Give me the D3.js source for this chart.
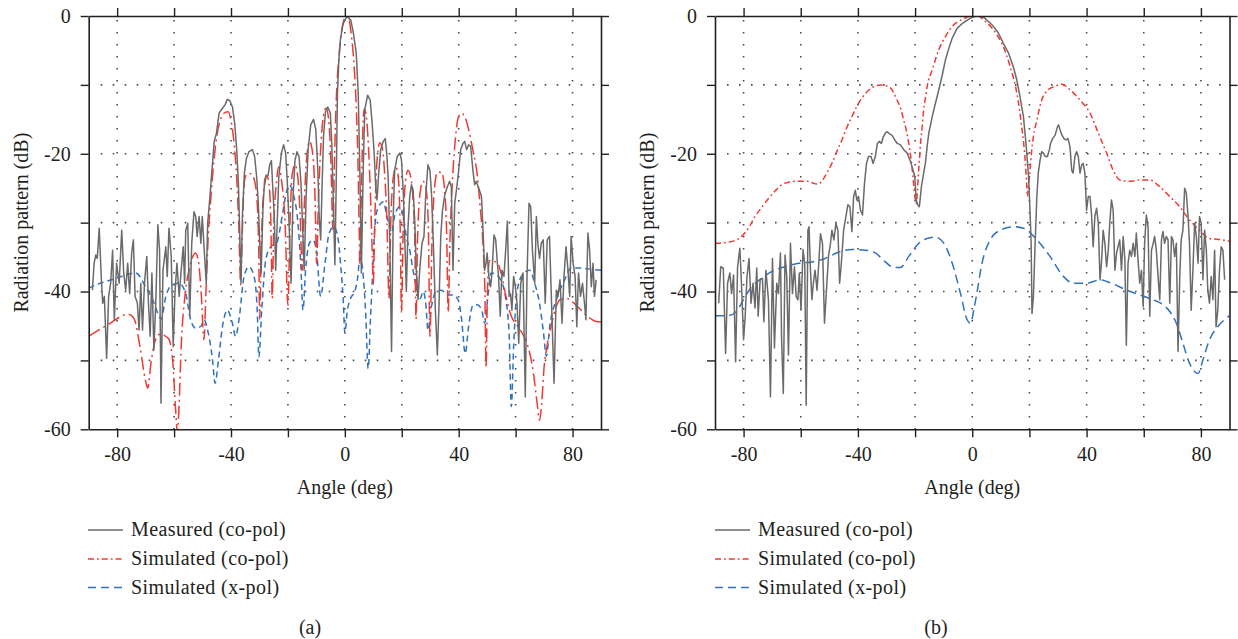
<!DOCTYPE html>
<html><head><meta charset="utf-8">
<script src="https://cdn.jsdelivr.net/npm/d3@7"></script>
<style>
body{margin:0;background:#fff}
svg{display:block}
text{font-family:"Liberation Serif","Times New Roman",serif;fill:#231f20}
</style>
</head><body>
<svg id="chart" width="1238" height="639"></svg>
<script>
// ---------- tick labels / texts ----------
const xTicks = [-80,-60,-40,-20,0,20,40,60,80];
const xTickLabels = [-80,-40,0,40,80];
const yTicks = [0,-10,-20,-30,-40,-50,-60];
const yTickLabels = [0,-20,-40,-60];
const seriesNames = ["Measured (co-pol)","Simulated (co-pol)","Simulated (x-pol)"];
const xTitle = "Angle (deg)";
const yTitle = "Radiation pattern (dB)";
const panelCaptions = ["(a)","(b)"];

// ---------- panel (a) data: [angle (deg), dB] ----------
const measuredA = [[-88.7,-39.8],[-88.1,-35.9],[-87.5,-34.7],[-87.0,-35.2],[-86.3,-30.8],[-85.6,-37.8],[-85.1,-41.7],[-84.5,-40.7],[-83.7,-49.7],[-83.0,-40.7],[-82.3,-38.8],[-81.6,-34.0],[-81.0,-44.1],[-80.2,-35.9],[-79.3,-38.8],[-78.4,-31.1],[-77.7,-37.3],[-77.0,-39.8],[-76.3,-35.9],[-75.6,-40.3],[-74.9,-34.4],[-74.3,-32.5],[-73.7,-40.7],[-72.9,-41.7],[-72.3,-45.6],[-71.7,-38.8],[-71.1,-45.6],[-70.4,-38.8],[-69.6,-34.9],[-69.0,-41.7],[-68.4,-46.5],[-67.8,-37.3],[-67.1,-48.5],[-66.4,-41.2],[-65.7,-30.3],[-65.1,-34.0],[-64.6,-56.2],[-63.9,-36.9],[-62.9,-33.5],[-62.4,-37.8],[-61.8,-30.8],[-61.0,-34.9],[-60.3,-48.0],[-59.7,-40.3],[-59.0,-35.9],[-58.2,-40.7],[-57.5,-36.9],[-56.8,-33.5],[-56.3,-38.8],[-55.9,-31.1],[-55.2,-30.1],[-54.5,-43.6],[-53.8,-33.0],[-53.0,-28.4],[-52.4,-29.1],[-51.9,-32.0],[-51.2,-29.1],[-50.6,-33.0],[-50.1,-29.1],[-49.4,-34.0],[-48.7,-38.8],[-48.2,-30.1],[-47.4,-26.2],[-46.5,-21.4],[-45.9,-18.2],[-45.1,-17.0],[-44.2,-14.1],[-43.0,-13.4],[-42.1,-12.9],[-41.3,-12.1],[-40.4,-12.3],[-39.5,-13.2],[-38.7,-15.6],[-38.0,-19.4],[-37.4,-24.3],[-37.0,-30.6],[-36.5,-38.8],[-36.0,-29.1],[-35.3,-22.8],[-34.6,-20.7],[-33.7,-19.7],[-32.5,-19.4],[-31.7,-20.4],[-31.0,-23.3],[-30.4,-27.2],[-29.9,-33.0],[-29.4,-37.3],[-28.8,-28.2],[-28.2,-23.8],[-27.6,-23.1],[-27.0,-23.2],[-26.4,-21.6],[-25.8,-21.0],[-25.4,-24.3],[-24.8,-29.1],[-24.3,-36.9],[-23.7,-29.1],[-23.2,-23.3],[-22.3,-19.9],[-21.5,-18.7],[-20.8,-19.9],[-20.2,-24.3],[-19.6,-30.1],[-18.9,-38.8],[-18.2,-26.2],[-17.5,-20.9],[-16.8,-19.7],[-16.1,-20.4],[-15.4,-24.3],[-14.9,-30.1],[-14.3,-36.9],[-13.6,-26.2],[-12.9,-19.4],[-12.0,-15.8],[-11.0,-15.0],[-10.2,-16.5],[-9.5,-22.4],[-9.0,-29.1],[-8.5,-32.5],[-8.1,-26.2],[-7.5,-17.5],[-6.8,-13.9],[-6.0,-13.2],[-5.1,-14.1],[-4.6,-18.5],[-4.1,-26.2],[-3.5,-36.1],[-3.0,-23.3],[-2.6,-11.2],[-2.1,-6.4],[-1.5,-3.2],[-0.7,-1.3],[0,-0.5],[0.9,-0.1],[2.1,-0.6],[3.0,-2.5],[4.0,-5.4],[4.7,-11.2],[5.3,-23.3],[5.8,-37.3],[6.4,-23.3],[7.0,-13.6],[8.0,-11.5],[8.9,-12.2],[9.6,-15.6],[10.3,-19.9],[10.9,-25.3],[11.3,-26.7],[11.9,-22.8],[12.6,-19.4],[13.5,-18.2],[14.2,-17.8],[14.7,-19.9],[15.2,-23.3],[15.8,-33.0],[16.4,-48.7],[17.0,-29.1],[17.5,-22.4],[18.4,-20.4],[19.3,-19.9],[19.9,-20.9],[20.6,-26.2],[21.1,-33.0],[21.6,-40.0],[22.2,-30.6],[22.8,-26.2],[23.4,-24.5],[24.0,-25.3],[24.6,-30.1],[25.1,-36.9],[25.7,-41.2],[26.3,-36.9],[27.1,-33.0],[27.8,-32.0],[28.4,-26.2],[29.2,-21.6],[29.9,-22.4],[30.5,-26.2],[31.1,-33.0],[31.8,-42.7],[32.5,-49.2],[33.1,-41.7],[33.7,-32.0],[34.3,-28.2],[35.1,-26.0],[36.0,-24.8],[36.8,-24.0],[37.4,-24.8],[38.0,-36.9],[38.6,-27.2],[39.2,-25.3],[40.0,-22.4],[40.7,-19.4],[41.5,-18.5],[42.1,-18.2],[42.8,-19.4],[43.5,-18.7],[44.2,-18.9],[45.0,-22.4],[45.6,-24.5],[46.2,-24.0],[46.8,-24.8],[47.3,-25.3],[48.0,-26.2],[48.5,-30.6],[49.1,-36.9],[49.6,-35.9],[50.0,-34.4],[50.6,-37.8],[51.2,-39.3],[51.7,-37.3],[52.4,-31.8],[53.0,-32.5],[53.6,-35.9],[54.0,-37.8],[54.6,-43.6],[55.2,-36.9],[55.9,-37.8],[56.5,-34.0],[57.1,-29.8],[57.7,-40.7],[58.2,-40.3],[58.7,-42.7],[59.3,-37.8],[59.9,-39.3],[60.5,-41.7],[61.1,-47.5],[61.8,-38.8],[62.6,-37.3],[63.4,-55.3],[64.0,-37.8],[64.7,-27.2],[65.3,-27.7],[65.9,-34.0],[66.7,-38.8],[67.3,-29.1],[67.8,-33.0],[68.4,-35.2],[69.0,-33.0],[69.7,-32.5],[70.4,-41.7],[71.1,-32.5],[71.9,-32.0],[72.7,-42.7],[73.5,-53.3],[74.3,-39.8],[74.9,-40.7],[75.6,-38.3],[76.3,-44.6],[77.0,-37.8],[77.7,-33.5],[78.4,-36.9],[79.0,-40.7],[79.5,-32.0],[80.2,-35.9],[80.9,-37.8],[81.5,-45.1],[82.1,-37.3],[82.8,-40.7],[83.5,-38.8],[84.2,-41.7],[84.7,-44.1],[85.4,-31.5],[86.0,-34.0],[86.6,-39.3],[87.2,-35.9],[87.7,-40.7],[88.3,-38.3]];

const simCoA = [[-90,-46.5],[-84,-45],[-76,-43.3],[-74,-44],[-72,-48],[-70,-53],[-69.3,-54],[-68,-50],[-66.5,-47],[-65,-46.2],[-62,-46.8],[-60.5,-50],[-59.5,-57],[-58.8,-60.5],[-58.3,-57],[-57.5,-48],[-56,-40],[-54.5,-36.5],[-52.5,-34.4],[-51.5,-35.5],[-50.5,-40],[-49.5,-47],[-48.8,-40],[-48,-32],[-47,-26],[-46,-21],[-45,-17.5],[-43.5,-14.8],[-42,-14],[-41,-13.9],[-40,-15.2],[-38.8,-19],[-38,-23.5],[-37.3,-30],[-36.6,-39],[-36,-31],[-35.3,-24],[-34.5,-23],[-33,-22.9],[-32,-23.5],[-31,-26],[-30.3,-33],[-29.9,-44],[-29.4,-34],[-28.5,-25.5],[-27.3,-23.3],[-26.5,-25],[-26,-30],[-25.5,-41],[-25,-31],[-24,-24],[-23.2,-21.9],[-22.2,-24],[-21,-30],[-20,-42],[-19.2,-29],[-18.5,-23],[-17.5,-21.6],[-16.5,-23.5],[-15.7,-29],[-15,-37],[-14.3,-28],[-13.5,-21],[-12.4,-18.2],[-11.3,-20],[-10.5,-26],[-9.9,-36],[-9.3,-27],[-8.3,-18],[-7.3,-14],[-6.6,-13.4],[-5.7,-15],[-4.9,-21],[-4.2,-31],[-3.7,-22],[-3,-12],[-2,-5.5],[-1,-1.8],[0,-0.2],[0.5,0],[1.2,-0.2],[2.3,-2.8],[3.3,-7.5],[4,-13],[4.6,-21],[5,-30],[5.3,-36],[5.7,-28],[6.2,-18],[6.8,-13.5],[7.5,-14.5],[8.3,-19],[9,-26],[9.6,-34],[10,-39],[10.5,-30],[11.3,-21],[12.3,-18.4],[13.3,-19.5],[14,-23],[14.8,-30],[15.5,-41],[16.2,-29],[17,-23.5],[18,-22],[18.8,-23.5],[19.4,-30],[19.9,-43],[20.5,-31],[21.3,-24],[22.2,-22.4],[23.2,-23.5],[24,-27],[24.6,-33],[25,-44],[25.5,-33],[26.5,-25.5],[27.5,-24],[28.5,-25],[29.3,-30],[29.9,-46.5],[30.6,-33],[31.5,-25],[32.5,-22.7],[34,-22.7],[35,-25],[35.8,-32],[36.3,-43],[36.9,-33],[37.8,-24],[38.8,-18],[39.8,-14.8],[40.9,-14.1],[42,-14.5],[43.5,-16.5],[45,-19.5],[46.5,-23],[47.5,-27.5],[48.5,-33],[49.2,-40],[49.6,-51],[50.1,-40],[50.8,-35.5],[53.5,-35.8],[55,-37.5],[56.5,-40.5],[58,-43],[61.5,-45.5],[63.5,-47],[65,-49],[66.3,-52],[67.5,-56],[68.4,-58.7],[69.2,-56],[70,-51],[71,-48],[72.5,-45],[74,-42.5],[75.6,-41.2],[78,-41],[80,-41.5],[82.5,-42.5],[85,-43.5],[88,-44.3],[90,-44.4]];

const simXA = [[-90,-39.5],[-86,-38.8],[-82,-38.3],[-77,-37.6],[-73.5,-37.3],[-70,-39.3],[-67,-41.7],[-65.3,-43.6],[-64.5,-44],[-62.9,-40.7],[-60.6,-39],[-58.2,-38.8],[-55.9,-40.3],[-54.2,-44.1],[-52.4,-45.3],[-50.5,-45],[-49.5,-44.1],[-48,-46],[-46.5,-49.9],[-45.6,-53.3],[-44.4,-49.9],[-43,-45.1],[-41.3,-42.7],[-39.5,-44.6],[-38.4,-46.5],[-37.2,-44.1],[-35.4,-37.8],[-33.7,-36.4],[-31.9,-37.8],[-30.8,-42.7],[-30.2,-49.5],[-29.2,-42.7],[-27.8,-35.4],[-26,-33.5],[-24,-33],[-22,-29],[-20.5,-25.5],[-19.5,-24.5],[-18,-26],[-16.5,-30],[-15.5,-36],[-14.7,-42.7],[-13.8,-37],[-12.5,-33],[-11.2,-32.5],[-10,-34],[-8.5,-40.7],[-7,-36],[-5.5,-31.5],[-3.9,-30.6],[-2.5,-32],[-1.5,-36],[-0.6,-41],[0,-46],[0.8,-43],[2,-41],[3.5,-40],[4.5,-38],[5.3,-35],[6.3,-37],[7.3,-43],[8.2,-51.2],[9,-44],[9.8,-37],[10.5,-31],[11.5,-28],[13.5,-27],[15,-29.5],[16.4,-31.5],[17.5,-29],[19.3,-27.7],[20.5,-29],[21.6,-32],[22.8,-34],[24,-37],[25.5,-40],[26.5,-41],[27.5,-40],[28.5,-42],[29.2,-45.6],[30.5,-42],[32,-40],[34,-39.8],[36,-40.5],[38,-40.5],[39.8,-41.2],[41,-44],[42.3,-49],[43.5,-45],[45,-42],[46.2,-41.9],[48,-42.5],[49.1,-44.6],[50.2,-41],[51.4,-37.3],[53,-37.5],[55,-38.5],[56.5,-41],[57.7,-46],[58.5,-56.7],[59.3,-48],[60.5,-40],[62.5,-37.5],[64.9,-36.9],[66.5,-38.5],[68.5,-42],[69.8,-46],[70.8,-49.4],[72,-45],[74.5,-41],[77,-38.5],[79.5,-36.6],[83,-36.6],[87,-36.8],[90,-36.9]];

// ---------- panel (b) data ----------
const measuredB = [[-88.7,-41.7],[-88.0,-36.4],[-87.1,-36.6],[-86.3,-49.0],[-85.6,-38.8],[-84.8,-37.3],[-84.2,-40.3],[-83.5,-37.6],[-82.8,-50.2],[-82.1,-36.4],[-81.3,-33.7],[-80.7,-39.3],[-80.0,-47.0],[-79.5,-44.1],[-78.8,-37.8],[-78.1,-35.2],[-77.4,-41.7],[-76.7,-38.8],[-76.0,-42.4],[-75.4,-36.6],[-74.9,-43.6],[-74.2,-38.3],[-73.4,-38.1],[-72.9,-44.4],[-72.2,-36.9],[-71.3,-41.2],[-70.6,-55.3],[-69.9,-35.2],[-69.2,-48.2],[-68.4,-38.8],[-67.8,-40.3],[-67.1,-34.4],[-66.7,-47.0],[-66.1,-54.8],[-65.5,-34.7],[-64.9,-37.8],[-64.3,-49.2],[-63.6,-33.0],[-62.9,-40.3],[-62.2,-36.4],[-61.6,-40.7],[-61.0,-41.2],[-60.5,-37.3],[-59.9,-42.7],[-59.2,-33.9],[-58.6,-36.0],[-58.1,-56.5],[-57.5,-31.1],[-57.1,-30.6],[-56.6,-36.9],[-56.1,-41.2],[-55.6,-38.8],[-55.0,-36.9],[-54.3,-39.8],[-53.7,-35.9],[-53.1,-31.6],[-52.4,-33.0],[-51.7,-44.6],[-51.0,-39.8],[-50.3,-34.9],[-49.6,-33.0],[-49.1,-31.1],[-48.4,-32.5],[-47.7,-30.1],[-47.0,-31.1],[-46.4,-38.8],[-45.8,-35.9],[-45.0,-31.1],[-44.2,-29.1],[-43.5,-27.4],[-42.8,-27.7],[-42.1,-31.3],[-41.5,-26.2],[-40.9,-25.3],[-40.4,-26.7],[-39.8,-26.2],[-39.1,-28.2],[-38.4,-28.9],[-37.7,-24.3],[-37.0,-21.4],[-36.3,-20.4],[-35.4,-20.4],[-34.7,-21.4],[-33.9,-20.4],[-33.2,-18.5],[-32.5,-18.2],[-31.8,-18.5],[-31.1,-17.5],[-30.4,-17.0],[-29.7,-16.8],[-29.0,-17.1],[-28.1,-17.3],[-27.1,-18.0],[-26.2,-18.5],[-25.1,-18.7],[-24.0,-19.4],[-22.8,-19.9],[-21.6,-21.1],[-20.7,-22.4],[-20.1,-23.3],[-19.6,-26.7],[-19.1,-27.4],[-18.5,-27.7],[-17.8,-24.8],[-17.0,-22.8],[-16.4,-21.4],[-15.8,-19.0],[-15.2,-17.0],[-14.0,-14.6],[-12.9,-12.7],[-11.7,-10.7],[-10.5,-8.6],[-9.4,-6.4],[-8.2,-4.7],[-7.0,-3.2],[-5.3,-1.8],[-3.5,-1.1],[-1.8,-0.6],[0,-0.2],[1.6,0],[4.0,-0.2],[5.7,-0.8],[7.4,-1.5],[9.2,-2.5],[10.9,-4.0],[12.7,-5.4],[14.4,-7.4],[15.6,-9.3],[16.7,-11.7],[17.9,-14.6],[18.8,-18.5],[19.7,-23.3],[20.2,-28.2],[20.6,-33.0],[20.9,-43.2],[21.4,-40.7],[22.0,-33.0],[22.6,-26.2],[23.1,-22.8],[23.7,-21.0],[24.3,-19.7],[24.9,-19.9],[25.5,-20.4],[26.3,-20.4],[27.0,-19.4],[27.4,-18.5],[28.1,-17.8],[29.0,-17.3],[29.8,-16.1],[30.2,-15.8],[30.7,-16.5],[31.4,-17.3],[32.1,-17.8],[32.8,-18.0],[33.5,-17.8],[34.2,-19.0],[34.8,-22.4],[35.3,-22.8],[35.9,-20.4],[36.5,-19.7],[37.1,-20.4],[37.7,-22.8],[38.3,-21.6],[38.8,-21.4],[39.4,-22.8],[40.0,-28.2],[40.6,-26.2],[41.2,-26.2],[41.7,-28.6],[42.3,-33.5],[42.9,-29.1],[43.5,-27.9],[44.1,-30.1],[44.7,-38.3],[45.2,-35.9],[45.8,-31.1],[46.4,-33.0],[47.0,-36.4],[47.6,-34.0],[48.1,-30.1],[48.7,-26.7],[49.3,-28.2],[49.9,-36.9],[50.5,-34.4],[51.0,-33.5],[51.6,-32.5],[52.2,-36.9],[52.8,-32.0],[53.4,-35.4],[53.9,-47.8],[54.5,-35.9],[55.1,-34.0],[55.7,-34.9],[56.3,-33.0],[56.9,-34.9],[57.4,-31.5],[58.0,-35.4],[58.6,-38.8],[59.2,-36.9],[59.8,-42.2],[60.3,-33.0],[60.9,-28.9],[61.5,-30.6],[62.1,-43.6],[62.7,-34.0],[63.3,-33.0],[63.8,-32.0],[64.4,-34.0],[65.0,-37.8],[65.6,-41.2],[66.2,-32.5],[66.7,-31.3],[67.3,-33.0],[67.9,-32.0],[68.5,-32.5],[69.1,-41.7],[69.7,-32.0],[70.2,-32.5],[70.8,-34.9],[71.4,-33.0],[72.0,-48.7],[72.6,-37.8],[73.1,-32.5],[73.7,-31.1],[74.3,-25.0],[74.9,-25.7],[75.5,-29.1],[76.0,-33.0],[76.6,-42.7],[77.2,-36.9],[77.8,-30.1],[78.4,-32.0],[79.0,-35.9],[79.5,-29.1],[80.1,-30.1],[80.7,-38.3],[81.3,-31.1],[81.9,-34.0],[82.4,-39.8],[83.0,-41.7],[83.6,-37.8],[84.2,-41.2],[84.8,-34.0],[85.3,-45.1],[85.9,-42.7],[86.5,-36.9],[87.1,-33.5],[87.7,-34.0],[88.3,-38.3]];

const simCoB = [[-90,-33.0],[-85,-32.8],[-80.7,-32.0],[-78,-30.6],[-76,-29.1],[-73.5,-27.7],[-71.3,-26.5],[-69,-25.4],[-66.7,-24.5],[-64,-24.1],[-62,-24.0],[-59,-24.0],[-57.3,-24.0],[-55.5,-24.3],[-53.8,-24.4],[-52,-23.6],[-50.5,-22.5],[-49.1,-21.4],[-47.5,-19.8],[-45.6,-18.0],[-44,-16.3],[-42.1,-14.6],[-40.5,-13.2],[-38.6,-11.9],[-36.8,-11.0],[-35.1,-10.4],[-33.5,-10.1],[-32.2,-10.0],[-30.5,-10.1],[-28.7,-10.4],[-27.4,-11.2],[-26.3,-12.2],[-25,-13.5],[-24,-15.1],[-23,-16.7],[-22.2,-18.5],[-21.5,-20.5],[-21.1,-21.9],[-20.6,-24],[-20.1,-26.2],[-19.6,-27.2],[-19.2,-25.5],[-18.9,-23.3],[-18.5,-21],[-18.1,-18.5],[-17.5,-16],[-17,-13.6],[-16.3,-11.7],[-15.8,-10.3],[-14,-7.8],[-11.7,-4.9],[-9.4,-3.0],[-7,-1.5],[-3.5,-0.5],[0,0],[2,0],[4,-0.6],[7.4,-2.0],[10.9,-4.5],[13.3,-7.4],[15.6,-11.2],[16.5,-13.5],[17.3,-16.1],[18,-18.5],[18.5,-20.9],[19,-24],[19.3,-26.2],[19.7,-24.5],[20.2,-22.4],[20.8,-19.5],[21.4,-17.5],[22.6,-15.1],[24.3,-12.2],[26.6,-10.7],[29,-10.2],[31.3,-9.9],[34.2,-10.7],[37.7,-12.2],[41.2,-14.1],[44.1,-17.0],[47,-19.9],[49.3,-22.4],[51.6,-23.8],[55.1,-24.0],[58.6,-23.8],[62.1,-23.8],[65.6,-24.8],[69.1,-26.2],[72.6,-27.7],[76,-29.6],[79.5,-31.1],[83,-32.3],[87.7,-32.5],[90,-32.7]];

const simXB = [[-90,-43.5],[-85.4,-43.5],[-82.5,-42.9],[-80.1,-41.2],[-77.2,-39.3],[-73.7,-38.1],[-70.2,-37.1],[-65.5,-36.4],[-60.8,-35.9],[-56.1,-35.7],[-51.5,-35.2],[-46.8,-34.3],[-42.1,-33.9],[-37.4,-34.0],[-33.9,-34.4],[-30.4,-35.7],[-27.5,-36.5],[-25.1,-36.5],[-22.2,-34.9],[-18.7,-33.0],[-15.8,-32.3],[-12.9,-32.1],[-9.9,-33.0],[-7,-35.9],[-4.1,-40.3],[-1.8,-44.1],[-0.6,-44.6],[0.6,-42.5],[1.5,-40.5],[3.4,-35.9],[6.3,-32.5],[9.8,-31.1],[14.4,-30.6],[17.9,-30.8],[22.6,-32.5],[27.2,-34.9],[31.9,-37.8],[35.3,-38.8],[40,-38.8],[44.7,-38.3],[49.3,-38.9],[54,-39.8],[58.6,-40.5],[63.3,-41.2],[66.7,-41.9],[69.1,-42.9],[71.4,-44.6],[73.7,-47.5],[76,-50.4],[77.8,-51.6],[79,-51.9],[80.7,-49.9],[83,-47.0],[85.9,-45.1],[88.8,-43.9],[90,-43.5]];

// ---------- layout / style ----------
const TOP = 16, BOTTOM = 429.3;
const colors = {measured:"#6a6a6a", co:"#ee3a31", x:"#2e72c0", ink:"#231f20", grid:"#4a4a4a"};
const panels = [
  {left:88.7, right:601, data:[measuredA, simCoA, simXA], coDash:"13,4,2,4", xDash:"6,4", legendX:88, captionX:310, titleX:28, caption:panelCaptions[0], id:"a"},
  {left:715, right:1229.5, data:[measuredB, simCoB, simXB], coDash:"6,3,1.8,3", xDash:"9,5", legendX:715, captionX:936, titleX:654, caption:panelCaptions[1], id:"b"}
];

const svg = d3.select("#chart");
const FS = 20;

panels.forEach(p => {
  const x = d3.scaleLinear().domain([-90,90]).range([p.left, p.right]);
  const y = d3.scaleLinear().domain([-60,0]).range([BOTTOM, TOP]);
  const g = svg.append("g");

  svg.append("clipPath").attr("id","clip-"+p.id).append("rect")
    .attr("x",p.left).attr("y",TOP).attr("width",p.right-p.left).attr("height",BOTTOM-TOP);

  // grid
  const grid = g.append("g").attr("stroke",colors.grid).attr("stroke-width",1.6).attr("stroke-dasharray","1.6,10.4");
  grid.selectAll("line.v").data(xTicks).join("line").attr("class","v")
    .attr("x1",d=>x(d)).attr("x2",d=>x(d)).attr("y1",TOP+4).attr("y2",BOTTOM);
  grid.selectAll("line.h").data(yTicks.filter(d=>d<0 && d>-60)).join("line").attr("class","h")
    .attr("y1",d=>y(d)).attr("y2",d=>y(d)).attr("x1",p.left+12).attr("x2",p.right);

  // series
  const line = d3.line().x(d=>x(d[0])).y(d=>y(d[1]));
  const smooth = d3.line().x(d=>x(d[0])).y(d=>y(d[1])).curve(d3.curveMonotoneX);
  const lines = g.append("g").attr("clip-path",`url(#clip-${p.id})`).attr("fill","none");
  lines.append("path").datum(p.data[2]).attr("d",smooth)
    .attr("stroke",colors.x).attr("stroke-width",1.5).attr("stroke-dasharray",p.xDash);
  lines.append("path").datum(p.data[1]).attr("d",smooth)
    .attr("stroke",colors.co).attr("stroke-width",1.5).attr("stroke-dasharray",p.coDash);
  lines.append("path").datum(p.data[0]).attr("d",line)
    .attr("stroke",colors.measured).attr("stroke-width",1.5).attr("stroke-linejoin","round");

  // axes
  const styleAxis = sel => {
    sel.attr("font-size",FS).attr("font-family",'"Liberation Serif","Times New Roman",serif').attr("color",colors.ink);
    sel.select(".domain").attr("stroke-width",1.6);
    sel.selectAll(".tick line").attr("stroke-width",1.4);
  };
  g.append("g").attr("transform",`translate(0,${BOTTOM})`)
    .call(d3.axisBottom(x).tickValues(xTicks).tickSize(8).tickSizeOuter(0).tickPadding(10)
      .tickFormat(d => xTickLabels.includes(d) ? String(d) : ""))
    .call(styleAxis);
  g.append("g").attr("transform",`translate(0,${TOP})`)
    .call(d3.axisTop(x).tickValues(xTicks).tickSize(8).tickSizeOuter(0).tickFormat(""))
    .call(styleAxis);
  g.append("g").attr("transform",`translate(${p.left},0)`)
    .call(d3.axisLeft(y).tickValues(yTicks).tickSize(8).tickSizeOuter(0).tickPadding(10)
      .tickFormat(d => yTickLabels.includes(d) ? String(d) : ""))
    .call(styleAxis);
  g.append("g").attr("transform",`translate(${p.right},0)`)
    .call(d3.axisRight(y).tickValues(yTicks).tickSize(8).tickSizeOuter(0).tickFormat(""))
    .call(styleAxis);

  // titles
  g.append("text").attr("x",(p.left+p.right)/2).attr("y",494).attr("text-anchor","middle")
    .attr("font-size",FS).text(xTitle);
  g.append("text").attr("transform",`translate(${p.titleX},${(TOP+BOTTOM)/2}) rotate(-90)`)
    .attr("text-anchor","middle").attr("font-size",FS).text(yTitle);

  // legend
  const rowsY = [530, 559, 587.5];
  const styles = [
    {stroke:colors.measured, dash:null},
    {stroke:colors.co, dash:"6,3,1.8,3"},
    {stroke:colors.x, dash:"8,5"}
  ];
  const lg = g.append("g");
  seriesNames.forEach((name,i) => {
    lg.append("line").attr("x1",p.legendX).attr("x2",p.legendX+35).attr("y1",rowsY[i]).attr("y2",rowsY[i])
      .attr("stroke",styles[i].stroke).attr("stroke-width",1.4).attr("stroke-dasharray",styles[i].dash);
    lg.append("text").attr("x",p.legendX+43).attr("y",rowsY[i]+6).attr("font-size",FS)
      .attr("letter-spacing","0.4px").text(name);
  });

  // caption
  g.append("text").attr("x",p.captionX).attr("y",634).attr("text-anchor","middle").attr("font-size",FS).text(p.caption);
});
</script>
</body></html>
